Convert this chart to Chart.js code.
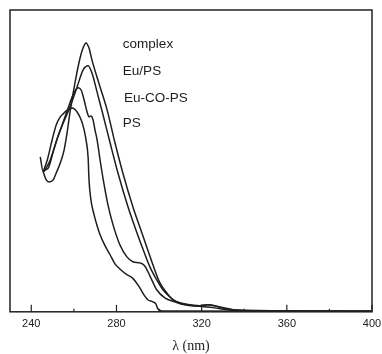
<!DOCTYPE html>
<html>
<head>
<meta charset="utf-8">
<script src="https://cdn.jsdelivr.net/npm/chart.js@4.4.1/dist/chart.umd.min.js"></script>
<style>
  html, body { margin: 0; padding: 0; background: #fff; }
  #wrap { width: 382px; height: 354px; }
</style>
</head>
<body>
<div id="wrap"><canvas id="specChart"></canvas></div>
<script>
// wavelength (nm) / absorbance (arb.)
var seriesNames = ['complex', 'Eu/PS', 'Eu-CO-PS', 'PS'];

var complexX = [245.6, 247.0, 248.4, 250.3, 251.7, 253.6, 255.4, 256.8, 258.2, 260.6, 262.9, 264.3, 265.7, 267.1, 268.5, 272.3, 275.6, 279.3, 283.0, 287.7, 291.9, 294.7, 297.1, 300.4, 303.6, 306.4, 309.7, 314.4, 319.1, 322.8, 326.1, 329.4, 334.5, 342.5, 365.8, 399.5];
var complexY = [46.4, 43.7, 43.0, 43.7, 46.0, 49.3, 53.6, 59.3, 66.2, 76.2, 84.1, 87.4, 89.1, 87.4, 83.4, 74.5, 66.9, 56.0, 46.0, 34.8, 26.2, 20.5, 15.6, 9.6, 6.3, 4.0, 3.0, 2.3, 2.0, 2.3, 2.0, 1.3, 0.7, 0.3, 0.2, 0.2];

var euPsX = [245.6, 246.5, 248.0, 250.3, 252.6, 255.0, 258.2, 261.5, 264.3, 266.7, 268.5, 270.9, 273.7, 277.0, 280.7, 285.4, 289.6, 292.9, 295.7, 298.9, 301.8, 305.0, 308.3, 313.0, 319.1, 322.8, 326.1, 330.8, 337.8, 399.5];
var euPsY = [46.4, 47.0, 47.7, 53.0, 58.3, 62.6, 67.9, 74.5, 80.1, 81.5, 79.1, 72.8, 65.2, 56.0, 46.0, 34.8, 26.2, 19.9, 14.9, 10.6, 7.3, 5.0, 3.3, 2.3, 2.0, 2.3, 2.0, 1.3, 0.5, 0.2];

var euCoPsX = [244.2, 245.6, 247.0, 248.9, 251.2, 254.5, 257.3, 259.6, 262.0, 263.4, 264.8, 266.2, 267.1, 268.0, 269.0, 269.9, 270.9, 272.3, 274.2, 276.0, 278.4, 281.6, 284.9, 287.7, 291.0, 293.3, 295.7, 298.9, 302.7, 307.4, 312.0, 319.1, 326.1, 335.4, 399.5];
var euCoPsY = [51.3, 46.4, 47.7, 50.3, 55.3, 61.9, 67.5, 71.9, 74.2, 73.5, 70.2, 66.2, 64.6, 64.9, 63.6, 60.3, 57.0, 50.3, 42.1, 35.4, 28.8, 22.2, 18.2, 16.6, 16.2, 15.2, 11.9, 7.3, 4.6, 3.3, 2.3, 1.8, 1.3, 0.5, 0.2];

var psX = [245.6, 247.5, 249.8, 251.7, 253.6, 255.0, 256.4, 259.2, 261.5, 263.4, 264.8, 265.7, 266.7, 267.1, 268.0, 269.5, 270.9, 272.3, 274.6, 277.0, 279.3, 281.6, 284.9, 287.3, 289.1, 291.0, 292.9, 294.7, 297.1, 298.5, 299.4, 301.3, 399.5];
var psY = [46.4, 50.3, 57.0, 61.9, 64.6, 65.6, 66.6, 67.5, 66.2, 63.6, 60.3, 57.0, 51.0, 43.7, 37.1, 32.1, 28.5, 25.5, 21.9, 18.9, 15.9, 14.2, 12.3, 11.3, 9.9, 7.9, 5.6, 4.0, 3.3, 2.6, 1.0, 0.3, 0.2];

var tickValues = [240, 260, 280, 300, 320, 340, 360, 380, 400];

function pairUp(xs, ys) {
    return xs.map(function (x, i) { return { x: x, y: ys[i] }; });
}

function lineSet(name, xs, ys) {
    return {
        label: name,
        data: pairUp(xs, ys),
        borderColor: '#1e1e1e',
        borderWidth: 1.5,
        pointRadius: 0,
        cubicInterpolationMode: 'monotone',
        fill: false
    };
}

// frame, inward tick marks and the curve names
var decorPlugin = {
    id: 'decor',
    afterDraw: function (chart) {
        var ctx = chart.ctx;
        var area = chart.chartArea;
        var xs = chart.scales.x;
        var ys = chart.scales.y;
        ctx.save();
        ctx.strokeStyle = '#222';
        ctx.lineWidth = 1.5;
        ctx.strokeRect(area.left, area.top, area.right - area.left, area.bottom - area.top);

        ctx.lineWidth = 1.2;
        tickValues.forEach(function (v) {
            var px = xs.getPixelForValue(v);
            var len = v % 40 === 0 ? 7 : 3;
            ctx.beginPath();
            ctx.moveTo(px, area.bottom);
            ctx.lineTo(px, area.bottom - len);
            ctx.stroke();
        });

        var labelAt = [[283.0, 88.7], [283.0, 79.8], [283.5, 70.9], [283.0, 62.6]];
        ctx.fillStyle = '#1e1e1e';
        ctx.font = '13.5px "Liberation Sans", Arial, sans-serif';
        ctx.textAlign = 'left';
        ctx.textBaseline = 'middle';
        seriesNames.forEach(function (name, i) {
            ctx.fillText(name, xs.getPixelForValue(labelAt[i][0]), ys.getPixelForValue(labelAt[i][1]));
        });
        ctx.restore();
    }
};

var ctx = document.getElementById('specChart').getContext('2d');
window.specChart = new Chart(ctx, {
    type: 'line',
    data: {
        datasets: [
            lineSet(seriesNames[0], complexX, complexY),
            lineSet(seriesNames[1], euPsX, euPsY),
            lineSet(seriesNames[2], euCoPsX, euCoPsY),
            lineSet(seriesNames[3], psX, psY)
        ]
    },
    options: {
        responsive: true,
        maintainAspectRatio: false,
        animation: false,
        layout: { padding: { left: 10, right: 10, top: 10, bottom: 0 } },
        plugins: {
            legend: { display: false },
            tooltip: { enabled: false }
        },
        scales: {
            x: {
                type: 'linear',
                min: 230,
                max: 400,
                afterBuildTicks: function (axis) {
                    axis.ticks = tickValues.map(function (v) { return { value: v }; });
                },
                afterFit: function (axis) {
                    // let the "400" label run into the margin like the original
                    axis.paddingRight = 0;
                },
                ticks: {
                    autoSkip: false,
                    maxRotation: 0,
                    padding: 6,
                    color: '#222',
                    font: { family: '"Liberation Sans", Arial, sans-serif', size: 11 },
                    callback: function (v) { return v % 40 === 0 ? String(v) : ''; }
                },
                grid: { display: false, drawTicks: false },
                border: { display: false },
                title: {
                    display: true,
                    text: 'λ (nm)',
                    color: '#222',
                    padding: { top: 2, bottom: 1 },
                    font: { family: '"Liberation Serif", "Times New Roman", serif', size: 14, lineHeight: 1 }
                }
            },
            y: {
                display: false,
                min: 0,
                max: 100
            }
        }
    },
    plugins: [decorPlugin]
});
</script>
</body>
</html>
